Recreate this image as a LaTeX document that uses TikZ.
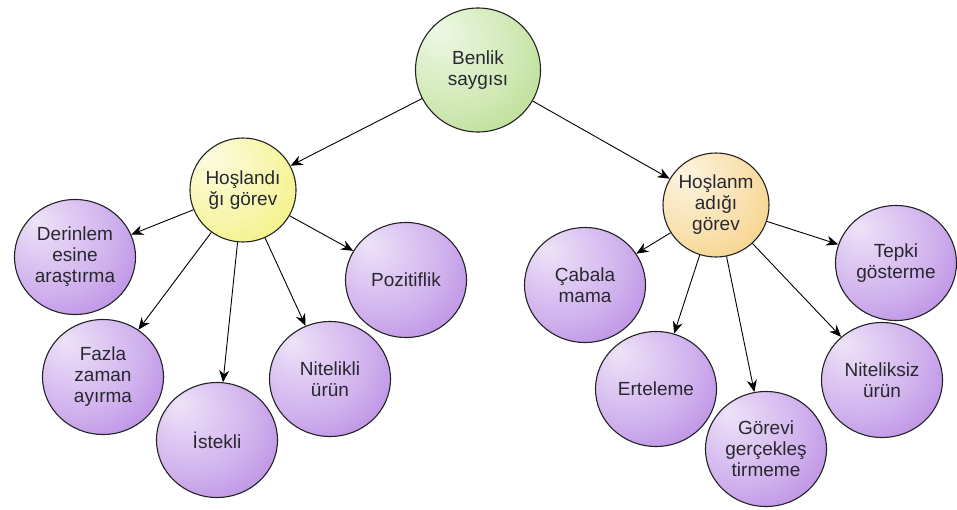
\documentclass[tikz,border=0pt]{standalone}
\usepackage{fontspec}
\setmainfont{Liberation Sans}
\usetikzlibrary{arrows.meta,shapes.geometric}
\makeatletter
% soft radial shading, lit from the upper left
\pgfdeclareradialshading[tikz@ball]{softball}{\pgfqpoint{-16bp}{16bp}}{%
  color(0bp)=(tikz@ball!18!white);
  color(26bp)=(tikz@ball!50!white);
  color(52bp)=(tikz@ball!92!white);
  color(70bp)=(tikz@ball)}
\makeatother
\definecolor{purplefill}{RGB}{160,98,218}
\definecolor{greenfill}{RGB}{160,210,105}
\definecolor{yellowfill}{RGB}{238,236,80}
\definecolor{orangefill}{RGB}{242,192,88}
\definecolor{textgray}{RGB}{40,40,48}
\definecolor{rimgray}{RGB}{35,35,35}
\tikzset{
  bubble/.style={ellipse, draw=rimgray, line width=1.1pt, inner sep=0pt,
    align=center, text=textgray,
    font=\fontsize{19}{21}\selectfont},
  leaf/.style={bubble, minimum width=121pt, minimum height=115pt,
    ball color=purplefill, shading=softball},
  rootnode/.style={bubble, minimum width=125pt, minimum height=124pt,
    ball color=greenfill, shading=softball},
  likenode/.style={bubble, minimum width=105pt, minimum height=104pt,
    ball color=yellowfill, shading=softball},
  dislikenode/.style={bubble, minimum width=105pt, minimum height=104pt,
    ball color=orangefill, shading=softball},
  link/.style={draw=black, line width=0.9pt, -{Stealth[length=12pt,width=10pt]}}
}
\begin{document}
\begin{tikzpicture}[x=1pt,y=-1pt]
\useasboundingbox (0,0) rectangle (957,509);
\fill[white] (0,0) rectangle (957,509);

% top level
\node[rootnode] (root) at (478,70) {Benlik\\saygısı};

% second level
\node[likenode] (like) at (243,190) {Hoşlandı\\ğı görev};
\node[dislikenode] (dislike) at (716,205) {Hoşlanm\\adığı\\görev};

% leaves under the liked task
\node[leaf] (deep) at (75,257) {Derinlem\\esine\\araştırma};
\node[leaf] (time) at (103,377) {Fazla\\zaman\\ayırma};
\node[leaf] (eager) at (217,440) {İstekli};
\node[leaf] (quality) at (330,379) {Nitelikli\\ürün};
\node[leaf] (positive) at (406,280) {Pozitiflik};

% leaves under the disliked task
\node[leaf] (effort) at (585,285) {Çabala\\mama};
\node[leaf] (delay) at (656,389) {Erteleme};
\node[leaf] (fail) at (766,449) {Görevi\\gerçekleş\\tirmeme};
\node[leaf] (poor) at (882,380) {Niteliksiz\\ürün};
\node[leaf] (react) at (896,263) {Tepki\\gösterme};

% connectors
\draw[link] (root) -- (like);
\draw[link] (root) -- (dislike);
\draw[link] (like) -- (deep);
\draw[link] (like) -- (time);
\draw[link] (like) -- (eager);
\draw[link] (like) -- (quality);
\draw[link] (like) -- (positive);
\draw[link] (dislike) -- (effort);
\draw[link] (dislike) -- (delay);
\draw[link] (dislike) -- (fail);
\draw[link] (dislike) -- (poor);
\draw[link] (dislike) -- (react);
\end{tikzpicture}
\end{document}
